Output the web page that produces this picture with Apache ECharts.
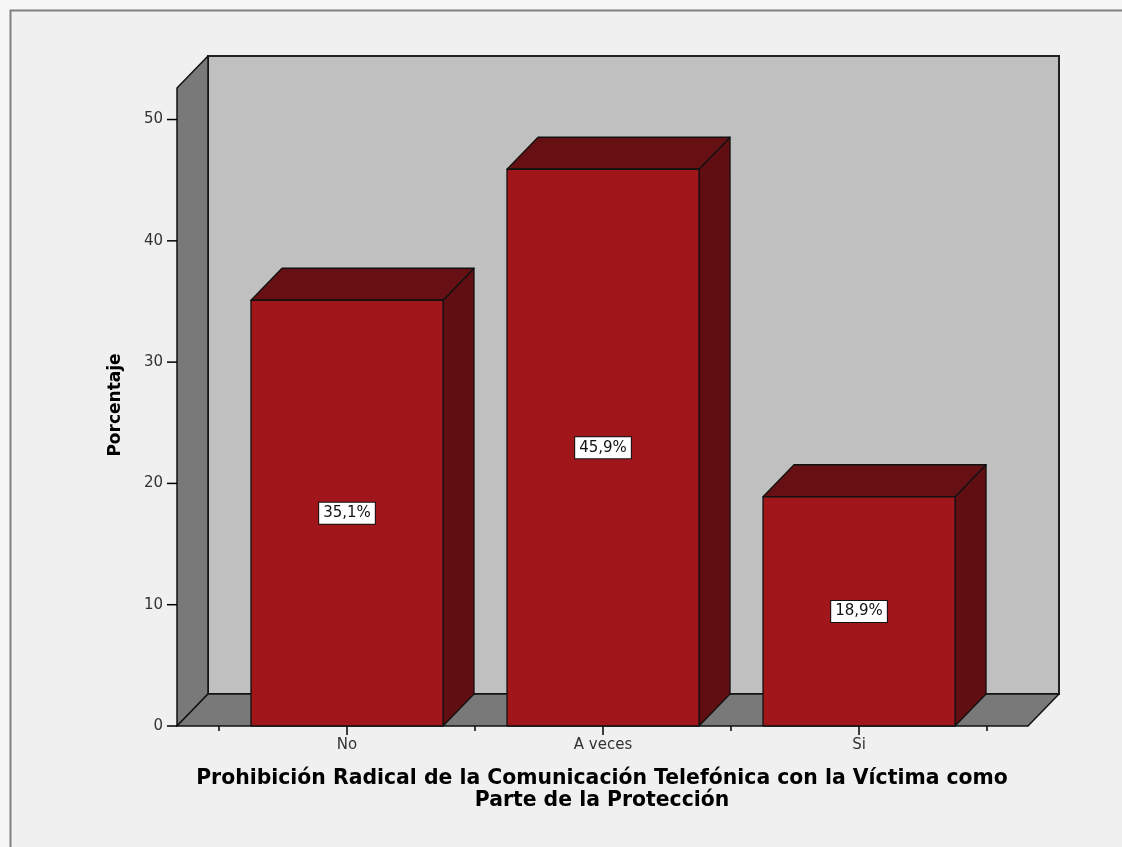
<!DOCTYPE html>
<html><head><meta charset="utf-8">
<script src="https://cdn.jsdelivr.net/npm/echarts@6/dist/echarts.min.js"></script>
<style>html,body{margin:0;padding:0;background:#f6f6f6;}#c{width:1122px;height:847px;}</style>
</head><body><div id="c"></div>
<script>
// ---- data ----
const categories = ['No', 'A veces', 'Si'];
const percentages = [35.1, 45.9, 18.9];
const yTickValues = [0, 10, 20, 30, 40, 50];
const yAxisTitle = 'Porcentaje';
const xAxisTitleLines = ['Prohibición Radical de la Comunicación Telefónica con la Víctima como', 'Parte de la Protección'];

// ---- layout / style ----
const X_MIN = -0.664, X_MAX = 2.66, Y_MAX = 52.6;
const DX = 31, DY = -32;
const BAR_HALF = 0.375;
const EDGE = '#111111';
const Y_TICK_LEN = 10;

const centerTicks = categories.map((_, i) => i);
const boundaryTicks = categories.map((_, i) => i - 0.5).concat([categories.length - 0.5]);

function fmt(v) { return v.toFixed(1).replace('.', ',') + '%'; }

function renderBackdrop(params, api) {
  const fl = api.coord([X_MIN, 0]);
  const fr = api.coord([X_MAX, 0]);
  const tl = api.coord([X_MIN, Y_MAX]);
  const st = { stroke: EDGE, lineWidth: 1.5, lineJoin: 'round' };
  const ticks = yTickValues.map(t => {
    const p = api.coord([X_MIN, t]);
    return { type: 'line', shape: { x1: p[0] - Y_TICK_LEN, y1: p[1], x2: p[0], y2: p[1] },
      style: { stroke: '#000', lineWidth: 1.5 } };
  });
  return {
    type: 'group',
    children: [
      { type: 'rect', shape: { x: tl[0] + DX, y: tl[1] + DY, width: fr[0] - fl[0], height: fl[1] - tl[1] },
        style: { fill: '#C0C0C0', stroke: '#222', lineWidth: 2 } },
      { type: 'polygon', shape: { points: [tl, [tl[0] + DX, tl[1] + DY], [fl[0] + DX, fl[1] + DY], fl] },
        style: Object.assign({ fill: '#797979' }, st) },
      { type: 'polygon', shape: { points: [fl, [fl[0] + DX, fl[1] + DY], [fr[0] + DX, fr[1] + DY], fr] },
        style: Object.assign({ fill: '#797979' }, st) }
    ].concat(ticks)
  };
}

function renderBar(params, api) {
  const i = api.value(0), v = api.value(1);
  const p0 = api.coord([i - BAR_HALF, v]);
  const p1 = api.coord([i + BAR_HALF, 0]);
  const x0 = p0[0], yT = p0[1], x1 = p1[0], yB = p1[1];
  const st = { stroke: EDGE, lineWidth: 1.3, lineJoin: 'round' };
  const midY = api.coord([i, v / 2])[1];
  return {
    type: 'group',
    children: [
      { type: 'polygon', shape: { points: [[x1, yT], [x1 + DX, yT + DY], [x1 + DX, yB + DY], [x1, yB]] },
        style: Object.assign({ fill: '#610E12' }, st) },
      { type: 'polygon', shape: { points: [[x0, yT], [x0 + DX, yT + DY], [x1 + DX, yT + DY], [x1, yT]] },
        style: Object.assign({ fill: '#671014' }, st) },
      { type: 'rect', shape: { x: x0, y: yT, width: x1 - x0, height: yB - yT },
        style: Object.assign({ fill: '#A1161B' }, st) },
      { type: 'text', x: (x0 + x1) / 2, y: midY, z2: 10,
        style: { text: fmt(v), fontFamily: 'DejaVu Sans', fontSize: 15, fill: '#111',
          align: 'center', verticalAlign: 'middle', backgroundColor: '#ffffff',
          borderColor: '#111', borderWidth: 1, padding: [3, 4, 3, 4] } }
    ]
  };
}

const chart = echarts.init(document.getElementById('c'), null, { renderer: 'canvas' });
chart.setOption({
  backgroundColor: 'transparent',
  animation: false,
  graphic: [
    { type: 'rect', z: -10, shape: { x: 10.5, y: 10.5, width: 1300, height: 1000 },
      style: { fill: '#F0F0F0', stroke: '#808080', lineWidth: 2 } },
    { type: 'text', x: 116, y: 405, rotation: Math.PI / 2, z: 10,
      style: { text: yAxisTitle, fontFamily: 'DejaVu Sans', fontWeight: 'bold', fontSize: 17,
        fill: '#000', align: 'center', verticalAlign: 'middle' } },
    { type: 'text', x: 602, y: 789.5, z: 10,
      style: { text: xAxisTitleLines.join('\n'), fontFamily: 'DejaVu Sans', fontWeight: 'bold', fontSize: 20.4,
        lineHeight: 21.5, fill: '#000', align: 'center', verticalAlign: 'middle' } }
  ],
  grid: { left: 177, right: 94, top: 88, bottom: 121, containLabel: false },
  xAxis: [
    { type: 'value', min: X_MIN, max: X_MAX, gridIndex: 0, position: 'bottom',
      axisLine: { show: false }, splitLine: { show: false },
      axisTick: { show: true, customValues: centerTicks, length: 9, lineStyle: { color: '#000', width: 1.5 } },
      axisLabel: { customValues: centerTicks, formatter: v => categories[Math.round(v)],
        fontFamily: 'DejaVu Sans', fontSize: 15, color: '#333', margin: 12 } },
    { type: 'value', min: X_MIN, max: X_MAX, gridIndex: 0, position: 'bottom', offset: 0,
      axisLine: { show: false }, splitLine: { show: false },
      axisTick: { show: true, customValues: boundaryTicks, length: 5, lineStyle: { color: '#000', width: 1.5 } },
      axisLabel: { show: false } }
  ],
  yAxis: {
    type: 'value', min: 0, max: Y_MAX, position: 'left',
    axisLine: { show: false }, splitLine: { show: false },
    axisTick: { show: false },
    axisLabel: { customValues: yTickValues, fontFamily: 'DejaVu Sans', fontSize: 15, color: '#333', margin: 14 }
  },
  series: [
    { type: 'custom', name: 'backdrop', renderItem: renderBackdrop, data: [[0, 0]], clip: false, z: 1, silent: true },
    { type: 'custom', name: 'Porcentaje', renderItem: renderBar, clip: false, z: 2,
      data: categories.map((c, i) => [i, percentages[i]]) }
  ]
});
</script>
</body></html>
